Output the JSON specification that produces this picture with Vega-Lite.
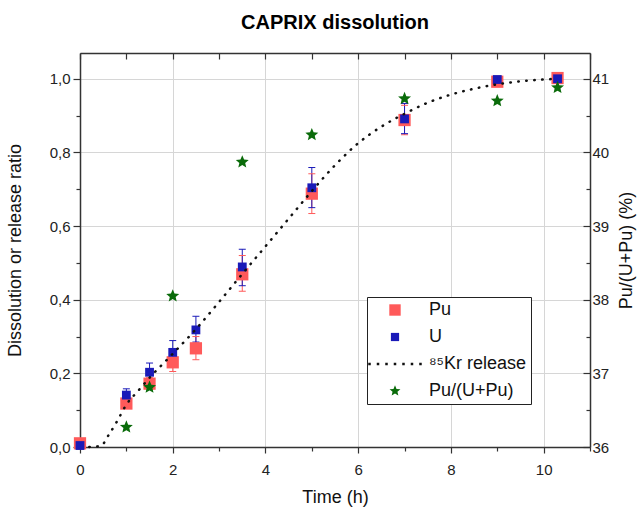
{
  "$schema": "https://vega.github.io/schema/vega-lite/v6.json",
  "width": 510,
  "height": 394,
  "autosize": "none",
  "padding": {"left": 80, "top": 53, "right": 54, "bottom": 65},
  "background": "white",
  "title": {"text": "CAPRIX dissolution", "font": "Liberation Sans", "fontSize": 20, "fontWeight": "bold", "color": "#000", "offset": 19},
  "config": {
    "view": {"stroke": null},
    "axis": {
      "labelFont": "Liberation Sans", "titleFont": "Liberation Sans",
      "labelFontSize": 15, "titleFontSize": 18, "titleFontWeight": "normal",
      "labelColor": "#222", "titleColor": "#111",
      "domainColor": "#333", "domainWidth": 1.5,
      "tickColor": "#333", "tickWidth": 1.2,
      "gridColor": "#d6d6d6", "gridWidth": 1, "labelFlush": false
    }
  },
  "datasets": {
    "meas": [
      {"t": 0, "series": "Pu", "value": 0.01, "lo": 0.01, "hi": 0.01},
      {"t": 1, "series": "Pu", "value": 0.118, "lo": 0.108, "hi": 0.13},
      {"t": 1.5, "series": "Pu", "value": 0.172, "lo": 0.158, "hi": 0.188},
      {"t": 2, "series": "Pu", "value": 0.23, "lo": 0.205, "hi": 0.255},
      {"t": 2.5, "series": "Pu", "value": 0.268, "lo": 0.237, "hi": 0.3},
      {"t": 3.5, "series": "Pu", "value": 0.469, "lo": 0.423, "hi": 0.52},
      {"t": 5, "series": "Pu", "value": 0.688, "lo": 0.634, "hi": 0.742},
      {"t": 7, "series": "Pu", "value": 0.888, "lo": 0.848, "hi": 0.928},
      {"t": 9, "series": "Pu", "value": 0.992, "lo": 0.985, "hi": 1.0},
      {"t": 10.3, "series": "Pu", "value": 1.002, "lo": 1.0, "hi": 1.004},
      {"t": 0, "series": "U", "value": 0.004, "lo": 0.004, "hi": 0.004},
      {"t": 1, "series": "U", "value": 0.141, "lo": 0.126, "hi": 0.158},
      {"t": 1.5, "series": "U", "value": 0.203, "lo": 0.177, "hi": 0.228},
      {"t": 2, "series": "U", "value": 0.257, "lo": 0.226, "hi": 0.289},
      {"t": 2.5, "series": "U", "value": 0.318, "lo": 0.285, "hi": 0.355},
      {"t": 3.5, "series": "U", "value": 0.489, "lo": 0.438, "hi": 0.537},
      {"t": 5, "series": "U", "value": 0.704, "lo": 0.65, "hi": 0.759},
      {"t": 7, "series": "U", "value": 0.891, "lo": 0.851, "hi": 0.933},
      {"t": 9, "series": "U", "value": 0.998, "lo": 0.998, "hi": 0.998},
      {"t": 10.3, "series": "U", "value": 1.0, "lo": 1.0, "hi": 1.0}
    ],
    "ratio": [
      {"t": 1, "series": "Pu/(U+Pu)", "pct": 36.27},
      {"t": 1.5, "series": "Pu/(U+Pu)", "pct": 36.81},
      {"t": 2, "series": "Pu/(U+Pu)", "pct": 38.05},
      {"t": 3.5, "series": "Pu/(U+Pu)", "pct": 39.87},
      {"t": 5, "series": "Pu/(U+Pu)", "pct": 40.24},
      {"t": 7, "series": "Pu/(U+Pu)", "pct": 40.73},
      {"t": 9, "series": "Pu/(U+Pu)", "pct": 40.7},
      {"t": 10.3, "series": "Pu/(U+Pu)", "pct": 40.88}
    ],
    "kr": [
      {"t": 0.2, "kr": 0.0},
      {"t": 0.45, "kr": 0.003},
      {"t": 0.62, "kr": 0.033},
      {"t": 0.8, "kr": 0.07},
      {"t": 1.0, "kr": 0.115},
      {"t": 1.25, "kr": 0.152},
      {"t": 1.5, "kr": 0.188},
      {"t": 2.0, "kr": 0.253},
      {"t": 2.5, "kr": 0.32},
      {"t": 3.0, "kr": 0.394},
      {"t": 3.5, "kr": 0.47},
      {"t": 4.0, "kr": 0.545},
      {"t": 4.5, "kr": 0.62},
      {"t": 5.0, "kr": 0.695},
      {"t": 5.5, "kr": 0.765},
      {"t": 6.0, "kr": 0.825},
      {"t": 6.5, "kr": 0.87},
      {"t": 7.0, "kr": 0.905},
      {"t": 7.5, "kr": 0.935},
      {"t": 8.0, "kr": 0.957},
      {"t": 8.5, "kr": 0.973},
      {"t": 9.0, "kr": 0.985},
      {"t": 9.5, "kr": 0.993},
      {"t": 10.0, "kr": 0.998},
      {"t": 10.3, "kr": 1.0}
    ]
  },
  "layer": [
    {
      "data": {"name": "meas"},
      "mark": {"type": "rule", "strokeWidth": 1},
      "encoding": {
        "x": {"field": "t", "type": "quantitative", "scale": {"domain": [0, 11], "nice": false},
          "axis": {"orient": "bottom", "values": [1, 3, 5, 7, 9, 11], "labels": false, "grid": false, "domain": false, "tickSize": 4, "title": null}},
        "y": {"field": "lo", "type": "quantitative", "scale": {"domain": [0, 1.07], "nice": false},
          "axis": {"orient": "left", "values": [0.1, 0.3, 0.5, 0.7, 0.9], "labels": false, "grid": false, "domain": false, "tickSize": 4, "title": null}},
        "y2": {"field": "hi"},
        "stroke": {"field": "series", "type": "nominal", "legend": null,
          "scale": {"domain": ["Pu", "U"], "range": ["#ff5a5a", "#1a1ab8"]}}
      }
    },
    {
      "data": {"name": "meas"},
      "mark": {"type": "point", "shape": "M-1,0L1,0", "filled": false, "size": 49, "strokeWidth": 1, "opacity": 1},
      "encoding": {
        "x": {"field": "t", "type": "quantitative", "scale": {"domain": [0, 11], "nice": false}, "axis": null},
        "y": {"field": "lo", "type": "quantitative", "scale": {"domain": [0, 1.07], "nice": false},
          "axis": {"orient": "right", "values": [0.1, 0.3, 0.5, 0.7, 0.9], "labels": false, "grid": false, "domain": false, "tickSize": -4, "title": null}},
        "stroke": {"field": "series", "type": "nominal", "legend": null}
      }
    },
    {
      "data": {"name": "meas"},
      "mark": {"type": "point", "shape": "M-1,0L1,0", "filled": false, "size": 49, "strokeWidth": 1, "opacity": 1},
      "encoding": {
        "x": {"field": "t", "type": "quantitative", "scale": {"domain": [0, 11], "nice": false}, "axis": null},
        "y": {"field": "hi", "type": "quantitative", "scale": {"domain": [0, 1.07], "nice": false}, "axis": null},
        "stroke": {"field": "series", "type": "nominal", "legend": null}
      }
    },
    {
      "data": {"name": "meas"},
      "mark": {"type": "point", "filled": true, "opacity": 1, "size": 150},
      "encoding": {
        "x": {"field": "t", "type": "quantitative", "scale": {"domain": [0, 11], "nice": false}, "axis": null},
        "y": {"field": "value", "type": "quantitative", "scale": {"domain": [0, 1.07], "nice": false}, "axis": null},
        "color": {"field": "series", "type": "nominal",
          "scale": {"domain": ["Pu", "U", "⁸⁵Kr release", "Pu/(U+Pu)"], "range": ["#ff5a5a", "#1a1ab8", "#111111", "#0a6b0a"]},
          "legend": {"orient": "none", "legendX": 287, "legendY": 244, "title": null,
            "labelFont": "Liberation Sans", "labelFontSize": 18, "labelColor": "#111",
            "symbolSize": 130, "symbolStrokeWidth": 0, "symbolOffset": 15, "labelOffset": 25,
            "rowPadding": 9, "padding": 4, "strokeColor": "#222", "fillColor": "white"}},
        "shape": {"field": "series", "type": "nominal",
          "scale": {"domain": ["Pu", "U", "⁸⁵Kr release", "Pu/(U+Pu)"],
            "range": ["M-1,-1h2v2h-2z", "M-0.72,-0.72h1.44v1.44h-1.44z",
              "M-4.69,-0.22h0.44v0.44h-0.44zM-3.2,-0.22h0.44v0.44h-0.44zM-1.71,-0.22h0.44v0.44h-0.44zM-0.22,-0.22h0.44v0.44h-0.44zM1.27,-0.22h0.44v0.44h-0.44zM2.76,-0.22h0.44v0.44h-0.44zM4.25,-0.22h0.44v0.44h-0.44z",
              "M0,-1L0.264,-0.364L0.951,-0.309L0.428,0.139L0.588,0.809L0,0.45L-0.588,0.809L-0.428,0.139L-0.951,-0.309L-0.264,-0.364Z"]},
          "legend": {"orient": "none", "legendX": 287, "legendY": 244, "title": null,
            "labelFont": "Liberation Sans", "labelFontSize": 18, "labelColor": "#111",
            "symbolSize": 130, "symbolStrokeWidth": 0, "symbolOffset": 15, "labelOffset": 25,
            "rowPadding": 9, "padding": 4, "strokeColor": "#222", "fillColor": "white"}}
      }
    },
    {
      "data": {"name": "kr"},
      "mark": {"type": "line", "color": "#111", "strokeWidth": 2.5, "strokeDash": [0.5, 7.5], "strokeCap": "round", "interpolate": "monotone"},
      "encoding": {
        "x": {"field": "t", "type": "quantitative", "scale": {"domain": [0, 11], "nice": false},
          "axis": {"orient": "bottom", "values": [0, 2, 4, 6, 8, 10], "tickSize": 6, "grid": true,
            "labelPadding": 9, "title": "Time (h)", "titlePadding": 11}},
        "y": {"field": "kr", "type": "quantitative", "scale": {"domain": [0, 1.07], "nice": false},
          "axis": {"orient": "left", "values": [0, 0.2, 0.4, 0.6, 0.8, 1.0],
            "labelExpr": "replace(format(datum.value, '.1f'), '.', ',')",
            "tickSize": 7, "grid": true,
            "labelPadding": 3, "title": "Dissolution or release ratio", "titlePadding": 25}}
      }
    },
    {
      "data": {"name": "ratio"},
      "mark": {"type": "point", "filled": true, "opacity": 1, "size": 185},
      "encoding": {
        "x": {"field": "t", "type": "quantitative", "scale": {"domain": [0, 11], "nice": false},
          "axis": {"orient": "top", "values": [0, 1, 2, 3, 4, 5, 6, 7, 8, 9, 10, 11], "labels": false, "tickSize": -6, "grid": false, "title": null}},
        "y": {"field": "pct", "type": "quantitative", "scale": {"domain": [36, 41.35], "nice": false, "zero": false},
          "axis": {"orient": "right", "values": [36, 37, 38, 39, 40, 41],
            "tickSize": -7, "grid": false, "labelPadding": 9,
            "title": "Pu/(U+Pu)  (%)", "titleAngle": 270, "titleBaseline": "top", "titlePadding": 9}},
        "color": {"field": "series", "type": "nominal",
          "legend": {"orient": "none", "legendX": 287, "legendY": 244, "title": null,
            "labelFont": "Liberation Sans", "labelFontSize": 18, "labelColor": "#111",
            "symbolSize": 130, "symbolStrokeWidth": 0, "symbolOffset": 15, "labelOffset": 25,
            "rowPadding": 9, "padding": 4, "strokeColor": "#222", "fillColor": "white"}},
        "shape": {"field": "series", "type": "nominal",
          "legend": {"orient": "none", "legendX": 287, "legendY": 244, "title": null,
            "labelFont": "Liberation Sans", "labelFontSize": 18, "labelColor": "#111",
            "symbolSize": 130, "symbolStrokeWidth": 0, "symbolOffset": 15, "labelOffset": 25,
            "rowPadding": 9, "padding": 4, "strokeColor": "#222", "fillColor": "white"}}
      }
    }
  ],
  "resolve": {"scale": {"y": "independent"}, "axis": {"x": "independent"}}
}
